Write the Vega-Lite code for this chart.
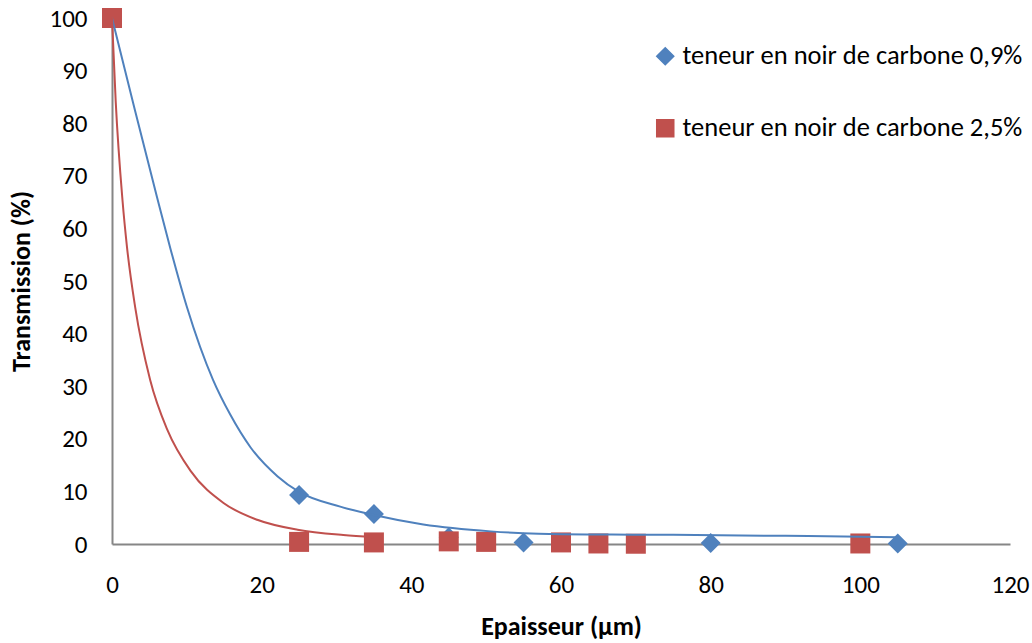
{
  "$schema": "https://vega.github.io/schema/vega-lite/v6.json",
  "width": 898,
  "height": 526,
  "autosize": {"type": "none"},
  "padding": {"left": 112, "top": 18, "right": 22, "bottom": 99},
  "background": "white",
  "config": {
    "view": {"stroke": null},
    "font": "Carlito, Lato, sans-serif",
    "axis": {"grid": false, "ticks": false, "domainColor": "#868686", "domainWidth": 2, "labelColor": "#000000", "labelFont": "Carlito, Lato, sans-serif", "labelFontSize": 25, "titleFont": "Carlito, Lato, sans-serif", "titleFontSize": 26, "titleFontWeight": "bold", "titleColor": "#000000"}
  },
  "datasets": {
    "pts": [
      {"serie": "teneur en noir de carbone 0,9%", "x": 0, "y": 100},
      {"serie": "teneur en noir de carbone 0,9%", "x": 25, "y": 9.3},
      {"serie": "teneur en noir de carbone 0,9%", "x": 35, "y": 5.7},
      {"serie": "teneur en noir de carbone 0,9%", "x": 45, "y": 1.3},
      {"serie": "teneur en noir de carbone 0,9%", "x": 55, "y": 0.3},
      {"serie": "teneur en noir de carbone 0,9%", "x": 80, "y": 0.2},
      {"serie": "teneur en noir de carbone 0,9%", "x": 105, "y": 0.1},
      {"serie": "teneur en noir de carbone 2,5%", "x": 0, "y": 100},
      {"serie": "teneur en noir de carbone 2,5%", "x": 25, "y": 0.4},
      {"serie": "teneur en noir de carbone 2,5%", "x": 35, "y": 0.3},
      {"serie": "teneur en noir de carbone 2,5%", "x": 45, "y": 0.5},
      {"serie": "teneur en noir de carbone 2,5%", "x": 50, "y": 0.4},
      {"serie": "teneur en noir de carbone 2,5%", "x": 60, "y": 0.3},
      {"serie": "teneur en noir de carbone 2,5%", "x": 65, "y": 0.1},
      {"serie": "teneur en noir de carbone 2,5%", "x": 70, "y": 0.05},
      {"serie": "teneur en noir de carbone 2,5%", "x": 100, "y": 0.1}
    ],
    "curves": [
      {"serie": "teneur en noir de carbone 0,9%", "x": 0, "y": 100},
      {"serie": "teneur en noir de carbone 0,9%", "x": 2.8, "y": 84},
      {"serie": "teneur en noir de carbone 0,9%", "x": 6, "y": 66},
      {"serie": "teneur en noir de carbone 0,9%", "x": 7.8, "y": 56.2},
      {"serie": "teneur en noir de carbone 0,9%", "x": 10, "y": 45.1},
      {"serie": "teneur en noir de carbone 0,9%", "x": 13.5, "y": 31.2},
      {"serie": "teneur en noir de carbone 0,9%", "x": 15.8, "y": 24.6},
      {"serie": "teneur en noir de carbone 0,9%", "x": 18.5, "y": 18.4},
      {"serie": "teneur en noir de carbone 0,9%", "x": 22.1, "y": 12.9},
      {"serie": "teneur en noir de carbone 0,9%", "x": 25, "y": 9.9},
      {"serie": "teneur en noir de carbone 0,9%", "x": 30.5, "y": 7.1},
      {"serie": "teneur en noir de carbone 0,9%", "x": 35, "y": 5.5},
      {"serie": "teneur en noir de carbone 0,9%", "x": 41.6, "y": 3.7},
      {"serie": "teneur en noir de carbone 0,9%", "x": 50.6, "y": 2.4},
      {"serie": "teneur en noir de carbone 0,9%", "x": 57, "y": 1.95},
      {"serie": "teneur en noir de carbone 0,9%", "x": 65, "y": 1.8},
      {"serie": "teneur en noir de carbone 0,9%", "x": 75, "y": 1.75},
      {"serie": "teneur en noir de carbone 0,9%", "x": 90, "y": 1.55},
      {"serie": "teneur en noir de carbone 0,9%", "x": 105, "y": 1.3},
      {"serie": "teneur en noir de carbone 2,5%", "x": 0, "y": 100},
      {"serie": "teneur en noir de carbone 2,5%", "x": 0.5, "y": 84},
      {"serie": "teneur en noir de carbone 2,5%", "x": 1.4, "y": 65.4},
      {"serie": "teneur en noir de carbone 2,5%", "x": 2, "y": 56.5},
      {"serie": "teneur en noir de carbone 2,5%", "x": 3.1, "y": 45},
      {"serie": "teneur en noir de carbone 2,5%", "x": 5.1, "y": 31.2},
      {"serie": "teneur en noir de carbone 2,5%", "x": 7.4, "y": 21.7},
      {"serie": "teneur en noir de carbone 2,5%", "x": 10.5, "y": 13.9},
      {"serie": "teneur en noir de carbone 2,5%", "x": 14.9, "y": 7.8},
      {"serie": "teneur en noir de carbone 2,5%", "x": 19.4, "y": 4.6},
      {"serie": "teneur en noir de carbone 2,5%", "x": 24.8, "y": 2.7},
      {"serie": "teneur en noir de carbone 2,5%", "x": 30.9, "y": 1.7},
      {"serie": "teneur en noir de carbone 2,5%", "x": 35, "y": 1.3}
    ]
  },
  "layer": [
    {
      "data": {"name": "pts"},
      "mark": {"type": "point", "filled": true, "opacity": 1, "size": 400},
      "encoding": {
        "x": {"field": "x", "type": "quantitative", "scale": {"domain": [0, 120], "nice": false}, "axis": {"values": [0, 20, 40, 60, 80, 100, 120], "title": "Epaisseur (µm)", "labelPadding": 28, "labelFlush": false, "titlePadding": 16}},
        "y": {"field": "y", "type": "quantitative", "scale": {"domain": [0, 100], "nice": false}, "axis": {"values": [0, 10, 20, 30, 40, 50, 60, 70, 80, 90, 100], "title": "Transmission (%)", "labelPadding": 25, "titlePadding": 14}},
        "color": {"field": "serie", "type": "nominal", "scale": {"domain": ["teneur en noir de carbone 0,9%", "teneur en noir de carbone 2,5%"], "range": ["#4F81BD", "#C0504D"]}, "legend": {"title": null, "orient": "none", "legendX": 540, "legendY": 25, "labelFontSize": 26.5, "labelColor": "#000000", "symbolSize": 290, "rowPadding": 45, "labelOffset": 4, "labelLimit": 500}},
        "shape": {"field": "serie", "type": "nominal", "scale": {"domain": ["teneur en noir de carbone 0,9%", "teneur en noir de carbone 2,5%"], "range": ["diamond", "square"]}, "legend": {"title": null, "orient": "none", "legendX": 540, "legendY": 25, "labelFontSize": 26.5, "labelColor": "#000000", "symbolSize": 290, "rowPadding": 45, "labelOffset": 4, "labelLimit": 500}}
      }
    },
    {
      "data": {"name": "curves"},
      "mark": {"type": "line", "interpolate": "monotone", "strokeWidth": 2},
      "encoding": {
        "x": {"field": "x", "type": "quantitative"},
        "y": {"field": "y", "type": "quantitative"},
        "color": {"field": "serie", "type": "nominal", "legend": null}
      }
    }
  ]
}
